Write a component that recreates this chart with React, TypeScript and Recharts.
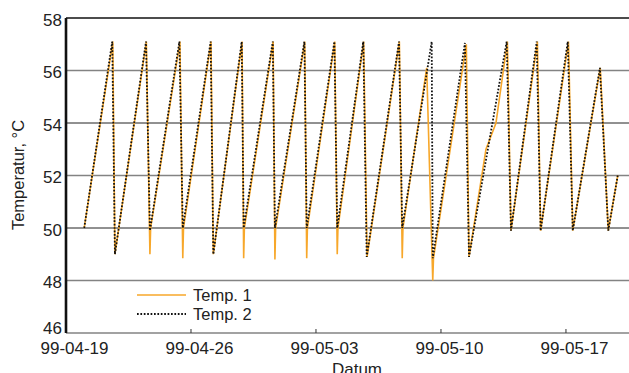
import { Line, LineChart, ReferenceLine, XAxis, YAxis } from 'recharts'

// x = days since 99-04-19
const temp1Days = [
  1.02, 2.62, 2.74, 4.5, 4.7, 4.74, 6.38, 6.54, 6.58, 8.12, 8.25, 9.86, 9.95, 9.99, 11.6, 11.7, 11.74,
  13.37, 13.48, 13.52, 15.05, 15.19, 15.23, 16.67, 16.86, 18.67, 18.83, 18.87, 20.2, 20.54, 20.58,
  22.42, 22.57, 23.52, 24.08, 24.72, 24.92, 26.4, 26.58, 28.14, 28.38, 29.92, 30.37, 30.9,
]
const temp1Values = [
  50.0, 57.1, 49.0, 57.1, 49.0, 50.0, 57.1, 48.85, 50.0, 57.1, 49.0, 57.1, 48.85, 50.0, 57.1, 48.8, 50.0,
  57.1, 48.85, 50.0, 57.1, 49.0, 50.0, 57.1, 48.9, 57.1, 48.85, 50.0, 56.1, 48.0, 48.85,
  57.0, 48.9, 53.0, 54.0, 57.1, 49.9, 57.1, 49.9, 57.1, 49.9, 56.1, 49.9, 52.0,
]
const temp2Days = [
  1.02, 2.59, 2.74, 4.48, 4.7, 6.35, 6.54, 8.1, 8.25, 9.84, 9.95, 11.58, 11.7, 13.35, 13.48, 15.03,
  15.19, 16.65, 16.84, 18.65, 18.83, 20.48, 20.54, 22.34, 22.57, 24.68, 24.92, 26.36, 26.58, 28.1,
  28.38, 29.9, 30.37, 30.9,
]
const temp2Values = [
  50.0, 57.1, 49.0, 57.1, 49.9, 57.1, 50.0, 57.1, 49.0, 57.1, 50.0, 57.1, 50.0, 57.1, 50.0, 57.1,
  50.0, 57.1, 48.9, 57.1, 50.0, 57.1, 48.85, 57.05, 48.9, 57.1, 49.9, 57.1, 49.9, 57.1,
  49.9, 56.1, 49.9, 52.0,
]
const xTickDays = [0, 7, 14, 21, 28]
const xTickLabels = ['99-04-19', '99-04-26', '99-05-03', '99-05-10', '99-05-17']
const yTicks = [46, 48, 50, 52, 54, 56, 58]
const darkGrid = [50, 54]
const greyGrid = [48, 52, 56]

const temp1 = temp1Days.map((d, i) => ({ day: d, value: temp1Values[i] }))
const temp2 = temp2Days.map((d, i) => ({ day: d, value: temp2Values[i] }))

const font = '"Liberation Sans", Arial, sans-serif'
const ORANGE = '#F7A72A'
const DOTS = '1.7 1.7'

const XTick = (props: any) => {
  const { x, y, payload } = props
  const idx = xTickDays.indexOf(payload.value)
  return (
    <g>
      {idx > 0 && <line x1={x} x2={x} y1={y - 4} y2={y} stroke="#333" strokeWidth={1} />}
      <text x={x + 8.5} y={y + 21} textAnchor="middle" fontSize={17} fill="#222" fontFamily={font}>
        {xTickLabels[idx]}
      </text>
    </g>
  )
}

const YTick = (props: any) => {
  const { x, y, payload } = props
  const shift = payload.value === 46 ? -5 : 1.5
  return (
    <text x={x} y={y + shift + 6} textAnchor="end" fontSize={17} fill="#222" fontFamily={font}>
      {payload.value}
    </text>
  )
}

const LegendBox = () => (
  <svg width={140} height={40} style={{ display: 'block' }}>
    <line x1={0} x2={49} y1={10} y2={10} stroke={ORANGE} strokeWidth={1.6} />
    <text x={56} y={16} fontSize={16.5} fill="#222" fontFamily={font}>Temp. 1</text>
    <line x1={0} x2={49} y1={29} y2={29} stroke="#111" strokeWidth={1.8} strokeDasharray={DOTS} />
    <text x={56} y={35} fontSize={16.5} fill="#222" fontFamily={font}>Temp. 2</text>
  </svg>
)

export default function App() {
  return (
    <div style={{ position: 'absolute', left: 0, top: 0, width: 629, height: 373, background: '#fff' }}>
      <LineChart width={629} height={373} margin={{ top: 18, right: 0, bottom: 0, left: 0 }}>
        {greyGrid.map(v => (
          <ReferenceLine key={v} y={v} stroke="#838383" strokeWidth={1.7} />
        ))}
        {darkGrid.map(v => (
          <ReferenceLine key={v} y={v} stroke="#222" strokeWidth={1} />
        ))}
        <ReferenceLine y={58} stroke="#111" strokeWidth={1.6} />
        <XAxis
          dataKey="day"
          type="number"
          domain={[0, 31.53]}
          ticks={xTickDays}
          height={40}
          tickSize={0}
          tickMargin={0}
          tickLine={false}
          axisLine={{ stroke: '#838383', strokeWidth: 1.7 }}
          tick={<XTick />}
          allowDataOverflow
          label={{
            content: () => (
              <text x={357} y={375} textAnchor="middle" fontSize={17} fill="#222" fontFamily={font}>
                Datum
              </text>
            ),
          }}
        />
        <YAxis
          type="number"
          domain={[46, 58]}
          ticks={yTicks}
          width={66}
          tickSize={0}
          tickMargin={4}
          tickLine={false}
          axisLine={{ stroke: '#111', strokeWidth: 2.6 }}
          tick={<YTick />}
          label={{
            content: () => (
              <text
                x={24}
                y={175}
                transform="rotate(-90 24 175)"
                textAnchor="middle"
                fontSize={16.5}
                fill="#222"
                fontFamily={font}
              >
                Temperatur, °C
              </text>
            ),
          }}
        />
        <Line
          data={temp1}
          dataKey="value"
          type="linear"
          stroke={ORANGE}
          strokeWidth={1.6}
          dot={false}
          isAnimationActive={false}
        />
        <Line
          data={temp2}
          dataKey="value"
          type="linear"
          stroke="#111"
          strokeWidth={1.8}
          strokeDasharray={DOTS}
          dot={false}
          isAnimationActive={false}
        />
      </LineChart>
      <div style={{ position: 'absolute', left: 137, top: 285 }}>
        <LegendBox />
      </div>
    </div>
  )
}
